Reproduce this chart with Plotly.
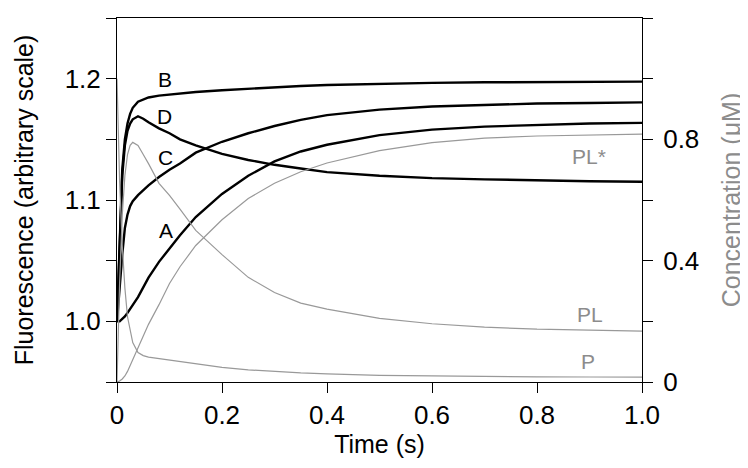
import plotly.graph_objects as go

# Time (s)
time_s = [0, 0.005, 0.01, 0.015, 0.02, 0.025, 0.03, 0.04, 0.05, 0.06, 0.08, 0.1,
          0.12, 0.15, 0.2, 0.25, 0.3, 0.35, 0.4, 0.5, 0.6, 0.7, 0.8, 0.9, 1.0]

# Fluorescence traces (left axis)
fluor_B = [1.0, 1.07, 1.125, 1.15, 1.163, 1.171, 1.176, 1.181, 1.183, 1.1845, 1.186, 1.187,
           1.188, 1.189, 1.1905, 1.1918, 1.193, 1.194, 1.1948, 1.1958, 1.1965, 1.197, 1.1973, 1.1975, 1.1976]
fluor_D = [1.0, 1.07, 1.12, 1.145, 1.157, 1.163, 1.1665, 1.169, 1.167, 1.164, 1.159, 1.155,
           1.150, 1.145, 1.138, 1.133, 1.129, 1.126, 1.123, 1.120, 1.118, 1.117, 1.116, 1.1155, 1.115]
fluor_C = [1.0, 1.03, 1.055, 1.077, 1.088, 1.095, 1.099, 1.104, 1.108, 1.112, 1.119, 1.125,
           1.130, 1.139, 1.148, 1.155, 1.161, 1.166, 1.170, 1.1745, 1.177, 1.1785, 1.1795, 1.180, 1.1805]
fluor_A = [1.0, 1.0, 1.002, 1.004, 1.007, 1.010, 1.013, 1.020, 1.028, 1.036, 1.049, 1.060,
           1.071, 1.086, 1.105, 1.120, 1.1318, 1.140, 1.1455, 1.1535, 1.158, 1.1605, 1.162, 1.163, 1.1636]

# Concentrations (right axis, uM)
conc_PLstar = [0, 0.003, 0.01, 0.02, 0.035, 0.055, 0.075, 0.116, 0.155, 0.19, 0.255, 0.325,
               0.38, 0.45, 0.535, 0.605, 0.655, 0.693, 0.722, 0.763, 0.789, 0.804, 0.811, 0.815, 0.817]
conc_PL = [0, 0.33, 0.55, 0.68, 0.75, 0.78, 0.79, 0.78, 0.75, 0.72, 0.655, 0.615,
           0.57, 0.50, 0.42, 0.345, 0.295, 0.26, 0.24, 0.21, 0.192, 0.181, 0.174, 0.170, 0.168]
conc_P = [1.0, 0.66, 0.45, 0.31, 0.215, 0.17, 0.13, 0.097, 0.087, 0.082, 0.077, 0.072,
          0.066, 0.058, 0.048, 0.040, 0.034, 0.030, 0.027, 0.022, 0.020, 0.018, 0.017, 0.0165, 0.016]

x_ticks = [0, 0.2, 0.4, 0.6, 0.8, 1.0]
x_ticklabels = ["0", "0.2", "0.4", "0.6", "0.8", "1.0"]
left_ticks = [0.95, 1.0, 1.05, 1.1, 1.15, 1.2, 1.25]
left_ticklabels = ["", "1.0", "", "1.1", "", "1.2", ""]
right_ticks = [0, 0.2, 0.4, 0.6, 0.8, 1.0, 1.2]
right_ticklabels = ["0", "", "0.4", "", "0.8", "", "1.2"]

GRAY = "#999999"
GRAYTXT = "#8c8c8c"
FONT = "Liberation Sans, Arial, sans-serif"

fig = go.Figure()
for name, ys in [("P", conc_P), ("PL", conc_PL), ("PL*", conc_PLstar)]:
    fig.add_trace(go.Scatter(x=time_s, y=ys, mode="lines", name=name, yaxis="y2",
                             line=dict(color=GRAY, width=1.2), showlegend=False))
for name, ys in [("A", fluor_A), ("C", fluor_C), ("D", fluor_D), ("B", fluor_B)]:
    fig.add_trace(go.Scatter(x=time_s, y=ys, mode="lines", name=name, yaxis="y",
                             line=dict(color="black", width=2.4), showlegend=False))

ann = []
for txt, x, y in [("B", 0.091, 1.199), ("D", 0.091, 1.1686), ("C", 0.093, 1.1347), ("A", 0.093, 1.075)]:
    ann.append(dict(text=txt, x=x, y=y, xref="x", yref="y", showarrow=False,
                    font=dict(size=21, color="black", family=FONT)))
for txt, x, y in [("PL*", 0.899, 0.745), ("PL", 0.90, 0.221), ("P", 0.897, 0.066)]:
    ann.append(dict(text=txt, x=x, y=y, xref="x", yref="y2", showarrow=False,
                    font=dict(size=21, color=GRAYTXT, family=FONT)))

fig.update_layout(
    width=740, height=460,
    margin=dict(l=109, r=106, t=10, b=86),
    plot_bgcolor="white", paper_bgcolor="white",
    font=dict(family=FONT, size=25, color="black"),
    annotations=ann,
    xaxis=dict(range=[0, 1.0], tickvals=x_ticks, ticktext=x_ticklabels, automargin=False,
               showline=True, linecolor="black", linewidth=1, mirror=True,
               ticks="outside", ticklen=10, tickcolor="black", showgrid=False, zeroline=False,
               tickfont=dict(size=26),
               title=dict(text="Time (s)", font=dict(size=25), standoff=1)),
    yaxis=dict(range=[0.95, 1.25], tickvals=left_ticks, ticktext=left_ticklabels, automargin=False,
               showline=True, linecolor="black", linewidth=1,
               ticks="outside", ticklen=10, tickcolor="black", showgrid=False, zeroline=False,
               tickfont=dict(size=26),
               title=dict(text="Fluorescence (arbitrary scale)", font=dict(size=25), standoff=23)),
    yaxis2=dict(range=[0, 1.2], tickvals=right_ticks, ticktext=right_ticklabels, automargin=False,
                overlaying="y", side="right",
                showline=True, linecolor="black", linewidth=1,
                ticks="outside", ticklen=10, tickcolor="black", showgrid=False, zeroline=False,
                tickfont=dict(size=26), ticklabelstandoff=5,
                title=dict(text="Concentration (μM)", font=dict(size=25, color=GRAYTXT), standoff=24)),
)

fig.write_html("out.html")
